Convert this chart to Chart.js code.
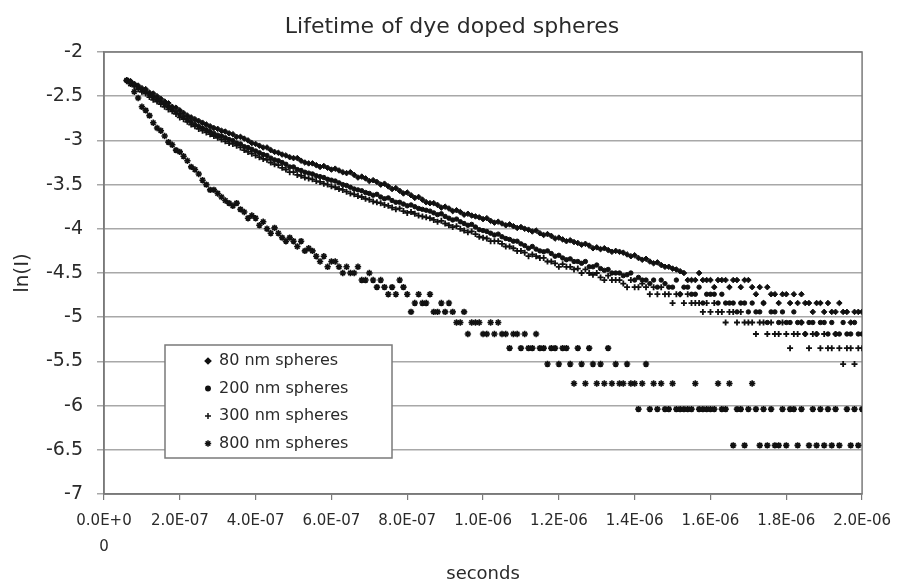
<!DOCTYPE html>
<html>
<head>
<meta charset="utf-8">
<script src="https://cdn.jsdelivr.net/npm/chart.js@4/dist/chart.umd.min.js"></script>
<style>
  html, body { margin: 0; padding: 0; background: #fff; }
  #c { display: block; }
</style>
</head>
<body>
<canvas id="c" width="899" height="585"></canvas>
<script>
// sample clock of the decay traces (seconds)
const tStart = 6e-8;
const tStep = 1e-8;

const chartTitle = 'Lifetime of dye doped spheres';
const seriesLabels = ['80 nm spheres', '200 nm spheres', '300 nm spheres', '800 nm spheres'];

const xTickLabels = [['0.0E+0', '0'], '2.0E-07', '4.0E-07', '6.0E-07', '8.0E-07', '1.0E-06',
    '1.2E-06', '1.4E-06', '1.6E-06', '1.8E-06', '2.0E-06'];

// ln(I), one value per sample
const s80 = [
    -2.32, -2.33, -2.36, -2.38, -2.41, -2.42, -2.46, -2.47, -2.50, -2.53,
    -2.56, -2.58, -2.62, -2.63, -2.66, -2.69, -2.72, -2.74, -2.76, -2.78,
    -2.80, -2.82, -2.84, -2.86, -2.87, -2.89, -2.90, -2.92, -2.93, -2.96,
    -2.96, -2.98, -3.00, -3.03, -3.04, -3.06, -3.08, -3.08, -3.11, -3.13,
    -3.14, -3.16, -3.17, -3.19, -3.20, -3.20, -3.23, -3.25, -3.26, -3.26,
    -3.28, -3.30, -3.29, -3.31, -3.33, -3.32, -3.34, -3.36, -3.37, -3.36,
    -3.39, -3.42, -3.41, -3.43, -3.46, -3.45, -3.47, -3.50, -3.49, -3.52,
    -3.55, -3.54, -3.57, -3.60, -3.59, -3.62, -3.65, -3.64, -3.67, -3.70,
    -3.71, -3.71, -3.73, -3.76, -3.75, -3.77, -3.80, -3.79, -3.81, -3.84,
    -3.83, -3.85, -3.86, -3.87, -3.89, -3.88, -3.91, -3.93, -3.92, -3.94,
    -3.96, -3.95, -3.97, -3.99, -3.98, -4.00, -4.01, -4.03, -4.02, -4.05,
    -4.07, -4.06, -4.08, -4.11, -4.10, -4.12, -4.14, -4.13, -4.15, -4.16,
    -4.18, -4.17, -4.19, -4.22, -4.21, -4.23, -4.22, -4.24, -4.26, -4.25,
    -4.26, -4.27, -4.29, -4.31, -4.30, -4.33, -4.35, -4.34, -4.37, -4.39,
    -4.38, -4.41, -4.43, -4.43, -4.45, -4.46, -4.48, -4.50, -4.58, -4.58,
    -4.58, -4.50, -4.58, -4.58, -4.58, -4.66, -4.58, -4.58, -4.58, -4.66,
    -4.58, -4.58, -4.66, -4.58, -4.58, -4.66, -4.74, -4.66, -4.84, -4.66,
    -4.74, -4.74, -4.84, -4.74, -4.74, -4.84, -4.74, -4.84, -4.74, -4.84,
    -4.84, -4.94, -4.84, -4.84, -4.94, -4.84, -4.94, -4.94, -4.84, -4.94,
    -4.94, -5.06, -4.94, -4.94, -4.94
];
const s200 = [
    -2.32, -2.34, -2.37, -2.40, -2.43, -2.45, -2.48, -2.51, -2.54, -2.57,
    -2.59, -2.62, -2.65, -2.68, -2.71, -2.74, -2.77, -2.79, -2.82, -2.84,
    -2.86, -2.88, -2.90, -2.92, -2.94, -2.95, -2.97, -2.99, -3.00, -3.03,
    -3.04, -3.07, -3.08, -3.10, -3.12, -3.14, -3.16, -3.17, -3.20, -3.22,
    -3.23, -3.25, -3.27, -3.30, -3.30, -3.33, -3.34, -3.36, -3.37, -3.38,
    -3.40, -3.41, -3.42, -3.44, -3.45, -3.46, -3.48, -3.50, -3.51, -3.53,
    -3.55, -3.56, -3.57, -3.59, -3.60, -3.62, -3.61, -3.64, -3.66, -3.65,
    -3.68, -3.70, -3.70, -3.72, -3.74, -3.73, -3.75, -3.77, -3.78, -3.79,
    -3.80, -3.82, -3.84, -3.83, -3.86, -3.88, -3.90, -3.89, -3.92, -3.94,
    -3.96, -3.95, -3.98, -4.01, -4.02, -4.03, -4.05, -4.07, -4.06, -4.09,
    -4.11, -4.12, -4.14, -4.14, -4.17, -4.19, -4.22, -4.20, -4.23, -4.25,
    -4.26, -4.25, -4.28, -4.31, -4.30, -4.33, -4.35, -4.34, -4.37, -4.37,
    -4.39, -4.37, -4.43, -4.43, -4.41, -4.45, -4.47, -4.46, -4.50, -4.50,
    -4.50, -4.53, -4.52, -4.50, -4.58, -4.55, -4.58, -4.58, -4.62, -4.58,
    -4.66, -4.58, -4.62, -4.66, -4.66, -4.58, -4.74, -4.66, -4.66, -4.74,
    -4.74, -4.66, -4.84, -4.74, -4.74, -4.74, -4.84, -4.74, -4.84, -4.84,
    -4.84, -4.94, -4.84, -4.84, -4.94, -4.84, -4.94, -4.94, -4.84, -5.06,
    -4.94, -4.94, -5.06, -4.94, -5.06, -5.06, -4.94, -5.06, -5.06, -5.19,
    -5.06, -5.06, -5.19, -5.06, -5.06, -5.19, -5.06, -5.19, -5.19, -5.06,
    -5.19, -5.19, -5.06, -5.19, -5.19
];
const s300 = [
    -2.33, -2.35, -2.39, -2.42, -2.45, -2.47, -2.51, -2.54, -2.56, -2.59,
    -2.62, -2.65, -2.67, -2.70, -2.74, -2.76, -2.79, -2.82, -2.84, -2.87,
    -2.89, -2.91, -2.93, -2.95, -2.97, -2.99, -3.01, -3.03, -3.04, -3.06,
    -3.08, -3.11, -3.13, -3.15, -3.17, -3.19, -3.21, -3.22, -3.25, -3.27,
    -3.28, -3.31, -3.33, -3.36, -3.36, -3.39, -3.40, -3.42, -3.43, -3.44,
    -3.46, -3.47, -3.49, -3.50, -3.52, -3.53, -3.55, -3.56, -3.58, -3.60,
    -3.61, -3.63, -3.64, -3.66, -3.67, -3.69, -3.70, -3.71, -3.73, -3.74,
    -3.76, -3.78, -3.77, -3.80, -3.82, -3.81, -3.83, -3.85, -3.86, -3.87,
    -3.88, -3.90, -3.92, -3.91, -3.94, -3.96, -3.98, -3.97, -4.00, -4.02,
    -4.04, -4.03, -4.06, -4.09, -4.10, -4.11, -4.14, -4.14, -4.14, -4.17,
    -4.20, -4.20, -4.22, -4.25, -4.25, -4.27, -4.31, -4.29, -4.31, -4.33,
    -4.33, -4.37, -4.37, -4.39, -4.43, -4.40, -4.43, -4.43, -4.46, -4.45,
    -4.50, -4.46, -4.50, -4.52, -4.50, -4.55, -4.58, -4.53, -4.58, -4.58,
    -4.58, -4.62, -4.66, -4.58, -4.66, -4.66, -4.62, -4.66, -4.74, -4.66,
    -4.74, -4.66, -4.74, -4.74, -4.84, -4.74, -4.74, -4.84, -4.74, -4.84,
    -4.84, -4.84, -4.94, -4.84, -4.94, -4.84, -4.94, -4.94, -5.06, -4.94,
    -4.94, -5.06, -4.94, -5.06, -5.06, -5.06, -5.19, -5.06, -5.06, -5.19,
    -5.06, -5.19, -5.19, -5.06, -5.19, -5.35, -5.19, -5.19, -5.06, -5.19,
    -5.35, -5.19, -5.19, -5.35, -5.19, -5.35, -5.35, -5.19, -5.35, -5.53,
    -5.35, -5.35, -5.53, -5.35, -5.35
];
const s800 = [
    -2.32, -2.36, -2.45, -2.52, -2.62, -2.66, -2.72, -2.80, -2.86, -2.89,
    -2.95, -3.02, -3.05, -3.11, -3.13, -3.18, -3.23, -3.30, -3.33, -3.38,
    -3.45, -3.50, -3.56, -3.56, -3.60, -3.64, -3.68, -3.71, -3.74, -3.71,
    -3.78, -3.81, -3.88, -3.85, -3.88, -3.96, -3.92, -4.00, -4.05, -3.99,
    -4.05, -4.10, -4.14, -4.10, -4.14, -4.20, -4.14, -4.25, -4.22, -4.25,
    -4.31, -4.37, -4.31, -4.43, -4.37, -4.37, -4.43, -4.50, -4.43, -4.50,
    -4.50, -4.43, -4.58, -4.58, -4.50, -4.58, -4.66, -4.58, -4.66, -4.74,
    -4.66, -4.74, -4.58, -4.66, -4.74, -4.94, -4.84, -4.74, -4.84, -4.84,
    -4.74, -4.94, -4.94, -4.84, -4.94, -4.84, -4.94, -5.06, -5.06, -4.94,
    -5.19, -5.06, -5.06, -5.06, -5.19, -5.19, -5.06, -5.19, -5.06, -5.19,
    -5.19, -5.35, -5.19, -5.19, -5.35, -5.19, -5.35, -5.35, -5.19, -5.35,
    -5.35, -5.53, -5.35, -5.35, -5.53, -5.35, -5.35, -5.53, -5.75, -5.35,
    -5.53, -5.75, -5.35, -5.53, -5.75, -5.53, -5.75, -5.35, -5.75, -5.53,
    -5.75, -5.75, -5.53, -5.75, -5.75, -6.04, -5.75, -5.53, -6.04, -5.75,
    -6.04, -5.75, -6.04, -6.04, -5.75, -6.04, -6.04, -6.04, -6.04, -6.04,
    -5.75, -6.04, -6.04, -6.04, -6.04, -6.04, -5.75, -6.04, -6.04, -5.75,
    -6.45, -6.04, -6.04, -6.45, -6.04, -5.75, -6.04, -6.45, -6.04, -6.45,
    -6.04, -6.45, -6.45, -6.04, -6.45, -6.04, -6.04, -6.45, -6.04, null,
    -6.45, -6.04, -6.45, -6.04, -6.45, -6.04, -6.45, -6.04, -6.45, null,
    -6.04, -6.45, -6.04, -6.45, -6.04
];

function toPoints(values) {
    return values.map((v, i) => ({ x: tStart + i * tStep, y: v }));
}

Chart.defaults.font.family = '"DejaVu Sans", "Liberation Sans", sans-serif';
Chart.defaults.color = '#2a2a2a';

const ink = '#111';
const styles = [
    { pointStyle: 'rectRot', radius: 2.8, borderWidth: 1 },
    { pointStyle: 'circle', radius: 2.2, borderWidth: 1 },
    { pointStyle: 'cross', radius: 3, borderWidth: 1.8 },
    { pointStyle: 'star', radius: 3.2, borderWidth: 1.6 }
];
const allSeries = [s80, s200, s300, s800];

const datasets = allSeries.map((s, i) => ({
    label: seriesLabels[i],
    data: toPoints(s),
    pointStyle: styles[i].pointStyle,
    pointRadius: styles[i].radius,
    pointBorderWidth: styles[i].borderWidth,
    backgroundColor: ink,
    borderColor: ink,
    showLine: false
}));

// box round the plot area, like the excel plot frame
const frame = {
    id: 'frame',
    beforeDatasetsDraw(chart) {
        const { ctx, chartArea: a } = chart;
        ctx.save();
        ctx.strokeStyle = '#7a7a7a';
        ctx.lineWidth = 1.5;
        ctx.strokeRect(a.left, a.top, a.right - a.left, a.bottom - a.top);
        ctx.restore();
    }
};

// title drawn by hand so it can sit where the original has it
const topTitle = {
    id: 'topTitle',
    afterDraw(chart) {
        const ctx = chart.ctx;
        ctx.save();
        ctx.font = '22px "DejaVu Sans", sans-serif';
        ctx.fillStyle = '#2a2a2a';
        ctx.textAlign = 'center';
        ctx.textBaseline = 'middle';
        ctx.fillText(chartTitle, 452, 27);
        ctx.restore();
    }
};

// legend sits inside the plot, bottom left
const boxLegend = {
    id: 'boxLegend',
    afterDatasetsDraw(chart) {
        const ctx = chart.ctx;
        const left = 165, top = 345, w = 227, h = 113;
        ctx.save();
        ctx.fillStyle = '#fff';
        ctx.fillRect(left, top, w, h);
        ctx.strokeStyle = '#7a7a7a';
        ctx.lineWidth = 1.5;
        ctx.strokeRect(left, top, w, h);
        ctx.font = '16px "DejaVu Sans", sans-serif';
        ctx.textBaseline = 'middle';
        seriesLabels.forEach((label, i) => {
            const y = top + 16 + i * 27.5;
            ctx.fillStyle = ink;
            ctx.strokeStyle = ink;
            Chart.helpers.drawPoint(ctx, {
                pointStyle: styles[i].pointStyle,
                radius: styles[i].radius,
                borderWidth: styles[i].borderWidth,
                rotation: 0
            }, left + 43, y);
            ctx.fillStyle = '#2a2a2a';
            ctx.fillText(label, left + 54, y);
        });
        ctx.restore();
    }
};

new Chart(document.getElementById('c').getContext('2d'), {
    type: 'scatter',
    data: { datasets: datasets },
    options: {
        responsive: false,
        animation: false,
        layout: { padding: { top: 52, right: 35, bottom: 0, left: 0 } },
        plugins: {
            legend: { display: false },
            tooltip: { enabled: false },
            title: { display: false }
        },
        scales: {
            x: {
                type: 'linear',
                min: 0,
                max: 2e-6,
                afterFit(scale) { scale.height = 91; },
                ticks: {
                    stepSize: 2e-7,
                    autoSkip: false,
                    maxRotation: 0,
                    padding: 8,
                    font: { size: 15, lineHeight: 1.73 },
                    callback: (v) => xTickLabels[Math.round(v / 2e-7)]
                },
                grid: { drawOnChartArea: false, tickLength: 6, color: '#7a7a7a', lineWidth: 1.2 },
                border: { color: '#7a7a7a', width: 1.5 },
                title: { display: true, text: 'seconds', font: { size: 18 }, padding: { top: 0, bottom: 0 } }
            },
            y: {
                min: -7,
                max: -2,
                afterFit(scale) { scale.width = 104; },
                ticks: { stepSize: 0.5, padding: 14, font: { size: 19 }, callback: (v) => String(v) },
                grid: { color: '#a8a8a8', lineWidth: 1.5, tickLength: 7 },
                border: { color: '#7a7a7a', width: 1.5 },
                title: { display: true, text: 'ln(I)', font: { size: 20 }, padding: { top: 11, bottom: 0 } }
            }
        }
    },
    plugins: [frame, topTitle, boxLegend]
});
</script>
</body>
</html>
